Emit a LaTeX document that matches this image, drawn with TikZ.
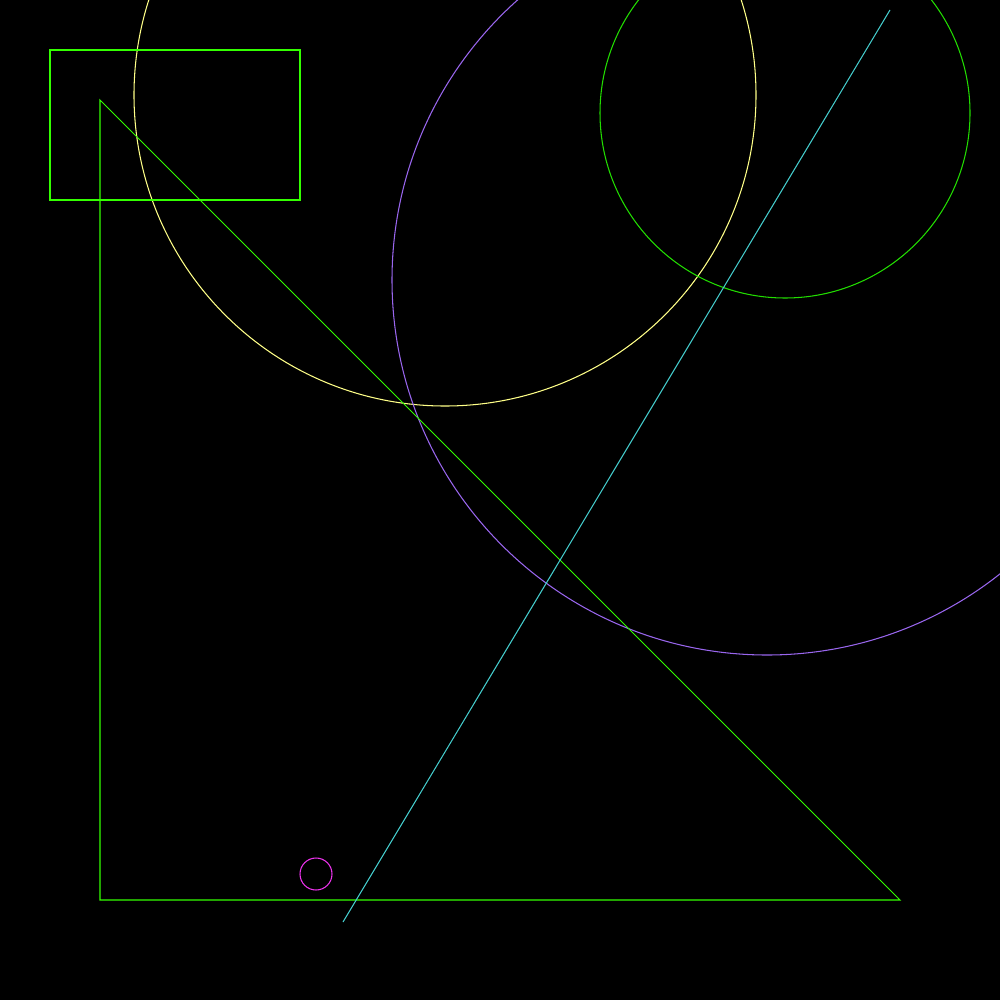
\documentclass[tikz,border=0pt]{standalone}
\usepackage{tikz}

\definecolor{limeline}{HTML}{33FF00}
\definecolor{greenring}{HTML}{22DD00}
\definecolor{paleyellow}{HTML}{FFFF88}
\definecolor{violetring}{HTML}{9966EE}
\definecolor{tealline}{HTML}{44CCCC}
\definecolor{pinkring}{HTML}{EE33EE}

\begin{document}
\begin{tikzpicture}[x=0.01cm, y=-0.01cm, line width=0.3pt,
  stroke/.style={draw=#1}]
  \fill[black] (0,0) rectangle (1000,1000);
  \useasboundingbox (0,0) rectangle (1000,1000);
  % big circles
  \draw[stroke=paleyellow] (445,95) circle[radius=311];
  \draw[stroke=violetring] (767,280) circle[radius=375];
  \draw[stroke=greenring] (785,113) circle[radius=185];
  % box and triangle
  \draw[stroke=limeline] (50,50) rectangle (300,200);
  \draw[stroke=limeline] (100,100) -- (100,900) -- (900,900) -- cycle;
  % slanted line and small ring
  \coordinate (top) at (890,10);
  \coordinate (foot) at (343,922);
  \draw[stroke=tealline] (top) -- (foot);
  \draw[stroke=pinkring] (316,874) circle[radius=16];
\end{tikzpicture}
\end{document}
